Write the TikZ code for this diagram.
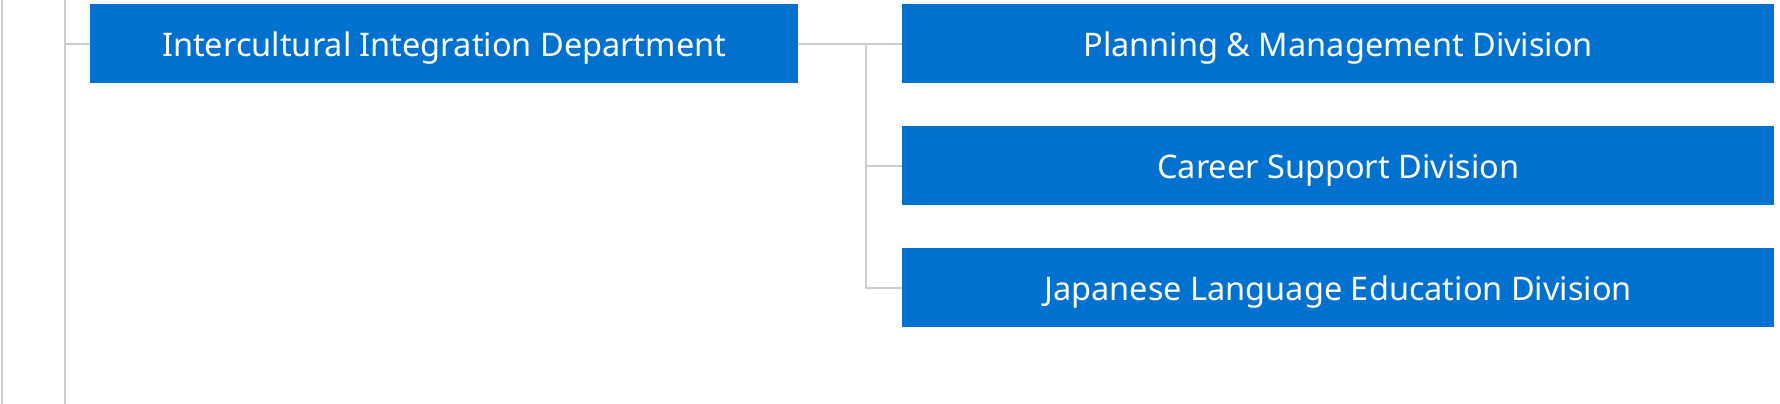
\documentclass[tikz,border=0pt]{standalone}
\usepackage{fontspec}
\setmainfont{Noto Sans}
\definecolor{boxblue}{HTML}{0071CE}
\definecolor{linegray}{HTML}{CDCDCD}
\begin{document}
\begin{tikzpicture}[x=1pt,y=-1pt,
  unit/.style={fill=boxblue,text=white,inner sep=0pt,anchor=north west,
    text height=25pt,text depth=0pt,minimum height=79pt,
    font=\fontsize{32.5}{38}\selectfont},
  conn/.style={draw=linegray,line width=2.2pt}]
\useasboundingbox (0,0) rectangle (1780,404);
\node[unit,minimum width=708pt] (dept) at (90,4) {Intercultural Integration Department};
\node[unit,minimum width=872pt] (plan) at (902,4) {Planning \& Management Division};
\node[unit,minimum width=872pt] (career) at (902,126) {Career Support Division};
\node[unit,minimum width=872pt] (jle) at (902,248) {Japanese Language Education Division};
\coordinate (top1) at (2,0);
\coordinate (bot1) at (2,404);
\coordinate (top2) at (65,0);
\coordinate (bot2) at (65,404);
\coordinate (j) at (866,0 |- dept.west);
\draw[conn] (top1) -- (bot1);
\draw[conn] (top2) -- (bot2);
\draw[conn] (65,0 |- dept.west) -- (dept.west);
\draw[conn] (dept.east) -- (plan.west);
\draw[conn] (j) |- (jle.west);
\draw[conn] (j |- career.west) -- (career.west);
\end{tikzpicture}
\end{document}
